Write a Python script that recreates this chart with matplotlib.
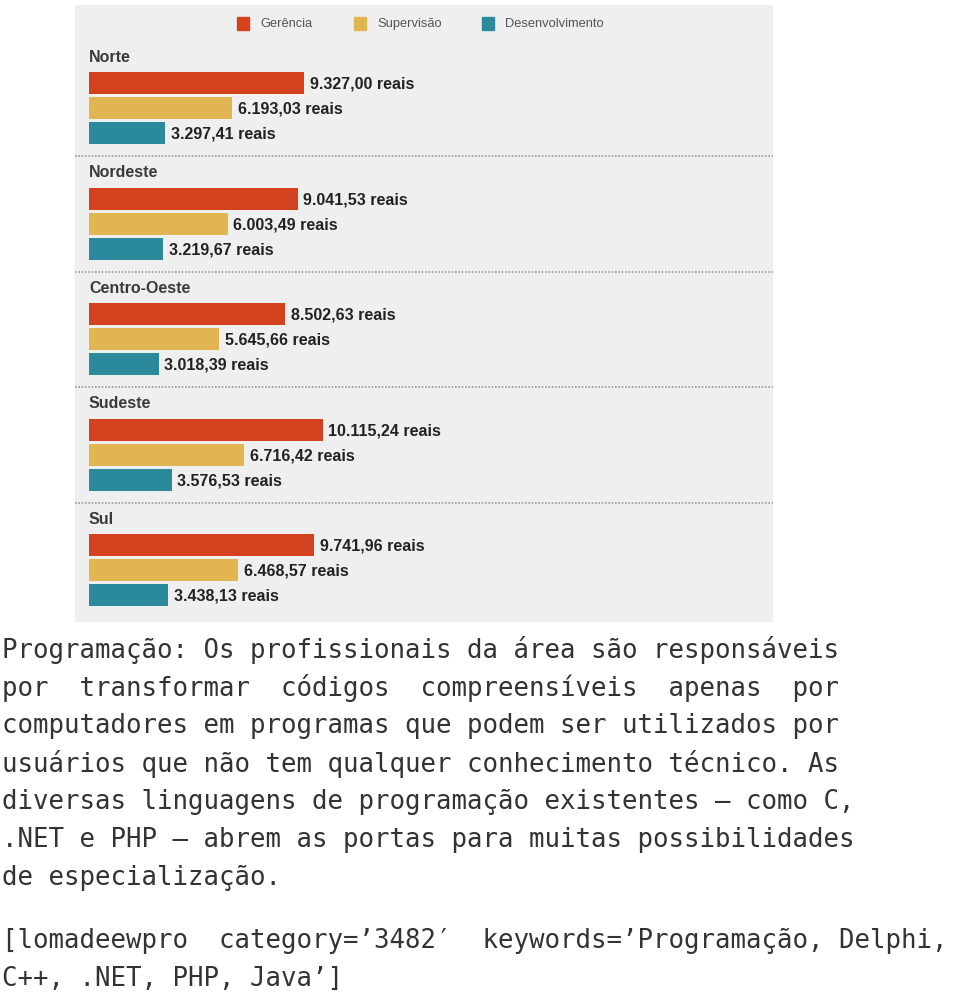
#!/usr/bin/env python3

"""
Salario medio por regiao e cargo (Programacao), barras horizontais.
"""

import matplotlib.pyplot as plt
from matplotlib.patches import Rectangle

regions = ["Norte", "Nordeste", "Centro-Oeste", "Sudeste", "Sul"]
roles = ["Gerência", "Supervisão", "Desenvolvimento"]

gerencia = [9327.00, 9041.53, 8502.63, 10115.24, 9741.96]
supervisao = [6193.03, 6003.49, 5645.66, 6716.42, 6468.57]
desenvolvimento = [3297.41, 3219.67, 3018.39, 3576.53, 3438.13]

colors = ["#d4411e", "#e2b553", "#2a8a9b"]

paragraph = [
    "Programação: Os profissionais da área são responsáveis",
    "por  transformar  códigos  compreensíveis  apenas  por",
    "computadores em programas que podem ser utilizados por",
    "usuários que não tem qualquer conhecimento técnico. As",
    "diversas linguagens de programação existentes – como C,",
    ".NET e PHP – abrem as portas para muitas possibilidades",
    "de especialização.",
    "",
    "[lomadeewpro  category=’3482′  keywords=’Programação, Delphi,",
    "C++, .NET, PHP, Java’]",
]


def fmt_reais(v):
    s = f"{v:,.2f}".replace(",", "X").replace(".", ",").replace("X", ".")
    return f"{s} reais"


W, H = 960, 993
fig = plt.figure(figsize=(W / 100, H / 100), dpi=100)

# panel in pixel coordinates
px_left, px_right, px_top, px_bottom = 75, 773, 5, 622
bar_x0 = 89
scale = 0.0231  # pixels per real

ax = fig.add_axes([px_left / W, 1 - px_bottom / H,
                   (px_right - px_left) / W, (px_bottom - px_top) / H])
ax.set_facecolor("#efefef")
ax.set_xlim(-(bar_x0 - px_left) / scale, (px_right - bar_x0) / scale)
ax.set_ylim(px_bottom, px_top)
for s in ax.spines.values():
    s.set_visible(False)
ax.set_xticks([])
ax.set_yticks([])

font = ["Liberation Sans", "DejaVu Sans"]

group_step = 115.5
label_y0 = 57
bar_y0 = 83
bar_step = 25
bar_h = 22

series = [gerencia, supervisao, desenvolvimento]
for i, region in enumerate(regions):
    gy = i * group_step
    ax.text(0, label_y0 + gy, region, fontsize=11.5, fontweight="bold",
            color="#3a3a3a", va="center", ha="left", family=font)
    for j, vals in enumerate(series):
        y = bar_y0 + gy + j * bar_step
        ax.barh(y, vals[i], height=bar_h, color=colors[j], left=0)
        ax.annotate(fmt_reais(vals[i]), (vals[i], y), xytext=(4, -1),
                    textcoords="offset points", va="center", ha="left",
                    fontsize=11.5, fontweight="bold", color="#222222",
                    family=font)
    if i < len(regions) - 1:
        ax.axhline(156 + gy, color="#9a9a9a", lw=1.2,
                   linestyle=(0, (1, 1)))

# legend
legend_x = [237, 354, 482]
for j, role in enumerate(roles):
    x0 = (legend_x[j] - bar_x0) / scale
    ax.add_patch(Rectangle((x0, 17), 12 / scale, 13, color=colors[j],
                           clip_on=False))
    ax.text(x0 + 23 / scale, 23.5, role, fontsize=9.3, color="#555555",
            va="center", ha="left", family=font)

# paragraph below the chart
line_y0 = 650
line_step = 38
for k, line in enumerate(paragraph):
    if not line:
        continue
    y = line_y0 + k * line_step
    if k >= 8:
        y = 941 + (k - 8) * line_step
    fig.text(2 / W, 1 - y / H, line, family="DejaVu Sans Mono",
             fontsize=18.5, color="#333333", va="center", ha="left")

fig.savefig("out.png", dpi=100)
